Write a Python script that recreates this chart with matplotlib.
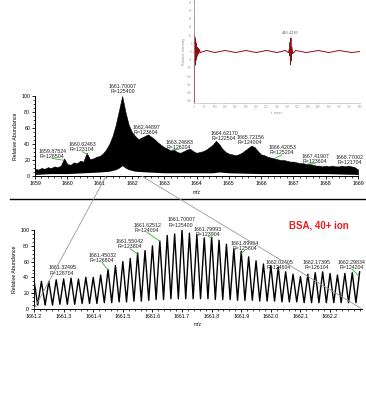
import numpy as np
import matplotlib
matplotlib.use("Agg")
import matplotlib.pyplot as plt
from matplotlib.lines import Line2D
from matplotlib.patches import ConnectionPatch
from matplotlib.ticker import MultipleLocator

plt.rcParams['font.family'] = ['Liberation Sans', 'DejaVu Sans']

# ---- full spectrum (top): envelope, 0.1 m/z steps from 1659.0
full_start, full_step = 1659.0, 0.1
full_upper = [9, 8, 10, 9, 11, 10, 12, 11, 13, 22,        # 1659.x
              15, 14, 17, 16, 19, 18, 29, 21, 22, 24,     # 1660.x
              25, 28, 33, 40, 50, 64, 82, 100, 80, 64,    # 1661.x
              55, 50, 46, 48, 50, 52, 49, 46, 42, 39,     # 1662.x
              36, 34, 32, 33, 30, 29, 31, 33, 34, 31,     # 1663.x
              29, 30, 31, 33, 36, 39, 44, 40, 34, 30,     # 1664.x
              28, 27, 26, 27, 29, 32, 35, 38, 36, 31,     # 1665.x
              27, 26, 24, 23, 22, 21, 20, 20, 19, 18,     # 1666.x
              18, 17, 16, 16, 15, 15, 14, 13, 13, 12,     # 1667.x
              13, 12, 13, 12, 12, 13, 12, 13, 12, 11,     # 1668.x
              8]
full_mz = full_start + full_step * np.arange(len(full_upper))
lower_mz = [1659.0, 1659.5, 1660.0, 1660.5, 1661.0, 1661.3, 1661.5, 1661.6, 1661.7,
            1661.8, 1661.9, 1662.1, 1662.5, 1663.0, 1664.0, 1664.5, 1664.7, 1665.0,
            1666.0, 1667.0, 1668.0, 1669.0]
lower_ab = [2, 3, 3, 4, 5, 6, 8, 10, 13, 10, 8, 6, 5, 4, 4, 4, 5, 4, 3, 3, 3, 2]

top_labels = ["1659.87524\nR=128504", "1660.62463\nR=123104", "1661.70007\nR=125400",
              "1662.44897\nR=123604", "1663.24683\nR=126204", "1664.62170\nR=122504",
              "1665.72156\nR=124004", "1666.42053\nR=125204", "1667.41907\nR=123604",
              "1668.77002\nR=121704"]
top_label_mz = [1659.87524, 1660.62463, 1661.70007, 1662.44897, 1663.24683,
                1664.62170, 1665.72156, 1666.42053, 1667.41907, 1668.77002]
top_text_xy = [(1659.53, 27.5), (1660.46, 36), (1661.72, 109), (1662.44, 57.5),
               (1663.46, 39), (1664.85, 50), (1665.66, 45), (1666.65, 32),
               (1667.67, 21), (1668.75, 20)]
top_leader = [True, True, False, False, True, False, False, True, True, False]

# ---- zoomed isotope cluster (bottom)
iso_start, iso_step = 1661.20007, 0.025
iso_peaks = [36, 35, 35, 37, 38, 39, 38, 40, 40, 43,
             50, 55, 60, 64, 71, 74, 80, 86, 93, 95,
             100, 96, 94, 90, 91, 87, 82, 76, 73, 66,
             61, 57, 55, 53, 47, 44, 41, 44, 46, 47,
             45, 43, 45, 46, 47]
iso_valleys = [5, 5, 5, 6, 6, 6, 7, 7, 7, 8,
               8, 9, 9, 10, 10, 11, 12, 12, 13, 13,
               13, 13, 13, 13, 12, 12, 12, 11, 11, 11,
               10, 10, 10, 9, 9, 9, 8, 8, 8, 8,
               8, 8, 8, 8]

bot_labels = ["1661.32495\nR=128704", "1661.45032\nR=126804", "1661.55042\nR=123804",
              "1661.62512\nR=124004", "1661.70007\nR=125400", "1661.79993\nR=123904",
              "1661.89954\nR=125804", "1662.02405\nR=124604", "1662.17395\nR=126104",
              "1662.29834\nR=124204"]
bot_label_mz = [1661.32495, 1661.45032, 1661.55042, 1661.62512, 1661.70007,
                1661.79993, 1661.89954, 1662.02405, 1662.17395, 1662.29834]
bot_text_xy = [(1661.295, 48.7), (1661.43, 64.5), (1661.524, 82), (1661.582, 102.5),
               (1661.697, 109.5), (1661.788, 97.5), (1661.913, 80), (1662.028, 56),
               (1662.156, 56), (1662.274, 56)]
bot_leader = [False, True, True, True, False, True, True, True, False, True]

# ---- transient inset
fid_t = [0, 0.5, 2, 3, 4, 5, 6, 7, 8, 9, 10, 11, 12, 14, 16, 18, 20, 23, 26, 30, 60,
         100, 150, 200, 250, 300, 350, 400, 440, 455, 459, 461, 463, 465, 467, 469,
         472, 476, 490, 540, 600, 650, 700, 760, 800]
fid_i = [50, -50, 15, -15, 14, -13, 12, -11, 10, -9, 8, -7, 6, -5, 4, -3, 3, -2, 2, -1,
         1, -1, 1, -1, 1, -1, 1, -1, 1, -1, 2, -4, 9, -13, 13, -9,
         4, -2, 1, -1, 1, -1, 1, -1, 0]

fig = plt.figure(figsize=(3.66, 3.96), dpi=100)
W, H = 366.0, 396.0
fs = 3.8
green = "#2fb52f"

def style(ax):
    for s in ("top", "right"):
        ax.spines[s].set_visible(False)
    ax.tick_params(which="major", direction="out", length=2.5, width=0.6, labelsize=fs, pad=1)
    ax.tick_params(which="minor", direction="out", length=1.5, width=0.5)
    ax.spines["left"].set_linewidth(0.7)
    ax.spines["bottom"].set_linewidth(0.7)

def label_peaks(ax, labels, mzs, xys, leaders, xs, ys):
    for lab, mz, xy, lead in zip(labels, mzs, xys, leaders):
        ax.text(xy[0], xy[1], lab, ha="center", va="center", fontsize=fs,
                linespacing=1.05, color="#222222")
        if lead:
            h = np.interp(mz, xs, ys)
            ax.annotate("", xy=(mz, h), xytext=(xy[0], xy[1] - 5.5),
                        annotation_clip=False,
                        arrowprops=dict(arrowstyle="-", color=green, lw=0.6,
                                        shrinkA=0, shrinkB=0))

# top: full spectrum
ax1 = fig.add_axes([35 / W, 1 - 176 / H, 323 / W, 80 / H])
ax1.fill_between(full_mz, 0, full_upper, color="black", lw=0.4)
ax1.fill_between(lower_mz, 0, lower_ab, color="white", lw=0)
ax1.set_xlim(1659, 1669)
ax1.set_ylim(0, 100)
ax1.xaxis.set_major_locator(MultipleLocator(1))
ax1.xaxis.set_minor_locator(MultipleLocator(0.2))
ax1.yaxis.set_major_locator(MultipleLocator(20))
ax1.yaxis.set_minor_locator(MultipleLocator(5))
style(ax1)
ax1.set_xlabel("m/z", fontsize=3.5, labelpad=3)
ax1.set_ylabel("Relative Abundance", fontsize=fs, labelpad=2)
label_peaks(ax1, top_labels, top_label_mz, top_text_xy, top_leader, full_mz, full_upper)

# bottom: zoom
iso_mz = []
iso_ab = []
for k, p in enumerate(iso_peaks):
    iso_mz.append(iso_start + k * iso_step)
    iso_ab.append(p)
    if k < len(iso_valleys):
        iso_mz.append(iso_start + (k + 0.5) * iso_step)
        iso_ab.append(iso_valleys[k])
ax2 = fig.add_axes([34 / W, 1 - 309 / H, 328 / W, 79 / H])
ax2.plot(iso_mz, iso_ab, color="black", lw=1.0)
ax2.set_xlim(1661.2, 1662.308)
ax2.set_ylim(0, 100)
ax2.set_xticks([1661.2, 1661.3, 1661.4, 1661.5, 1661.6, 1661.7, 1661.8, 1661.9,
                1662.0, 1662.1, 1662.2])
ax2.set_xticklabels(["1661.2", "1661.3", "1661.4", "1661.5", "1661.6", "1661.7",
                     "1661.8", "1661.9", "1662.0", "1662.1", "1662.2"])
ax2.xaxis.set_minor_locator(MultipleLocator(0.02))
ax2.yaxis.set_major_locator(MultipleLocator(20))
ax2.yaxis.set_minor_locator(MultipleLocator(5))
style(ax2)
ax2.set_xlabel("m/z", fontsize=3.5, labelpad=2)
ax2.set_ylabel("Relative Abundance", fontsize=fs, labelpad=2)
label_peaks(ax2, bot_labels, bot_label_mz, bot_text_xy, bot_leader, iso_mz, iso_ab)
ax2.text(0.868, 1.06, "BSA, 40+ ion", transform=ax2.transAxes, ha="center", va="center",
         fontsize=7, fontweight="bold", color="#ee1c1c")

# connectors from the full spectrum to the zoomed region
for x_top, x_bot in [(1661.2, 1661.2), (1662.3, 1662.308)]:
    con = ConnectionPatch(xyA=(x_top, 0), coordsA=ax1.transData,
                          xyB=(x_bot, 0), coordsB=ax2.transData,
                          color="#999999", lw=0.6)
    con.set_zorder(5)
    fig.add_artist(con)

# separator
fig.add_artist(Line2D([10 / W, 1.0], [1 - 199 / H, 1 - 199 / H], color="black", lw=1.0))

# inset transient
ax3 = fig.add_axes([194 / W, 1 - 103 / H, 166 / W, 103 / H])
ax3.patch.set_alpha(0)
ax3.plot(fid_t, fid_i, color="#8b1010", lw=0.7)
ax3.set_xlim(0, 800)
ax3.set_ylim(-50, 50)
for s in ("top", "right"):
    ax3.spines[s].set_visible(False)
for s in ("left", "bottom"):
    ax3.spines[s].set_color("#b0b0b0")
    ax3.spines[s].set_linewidth(0.4)
ax3.xaxis.set_major_locator(MultipleLocator(50))
ax3.yaxis.set_major_locator(MultipleLocator(8))
ax3.tick_params(direction="out", length=1, width=0.3, colors="#a0a0a0", labelsize=2, pad=0.5)
ax3.set_xlabel("t, msec", fontsize=2.5, color="#909090", labelpad=1)
ax3.set_ylabel("Relative Intensity", fontsize=2.5, color="#909090", labelpad=1)
ax3.text(465, 16, "446.4236", ha="center", va="bottom", fontsize=2.8, color="#666666")

fig.savefig("out.png", dpi=100)
